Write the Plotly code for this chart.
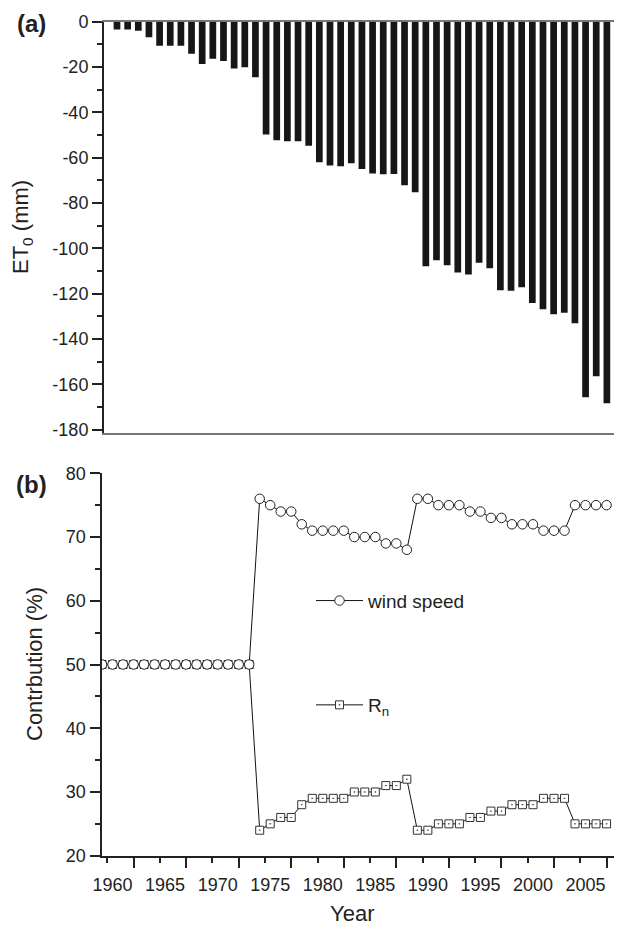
import plotly.graph_objects as go

# ---------------- data ----------------
bar_years = list(range(1960, 2008))
et0_change = [-3.4, -3.4, -4.0, -6.9, -10.6, -10.6, -10.6, -14.1, -18.7, -16.3,
              -17.3, -20.6, -20.1, -24.5, -49.8, -52.3, -52.8, -52.8, -54.7, -62.0,
              -63.5, -63.8, -62.5, -65.0, -67.0, -67.3, -67.2, -72.2, -75.3, -107.9,
              -105.3, -107.5, -110.7, -111.5, -106.4, -108.8, -118.5, -118.7, -117.2, -124.1,
              -126.9, -129.1, -128.4, -133.1, -165.7, -156.4, -168.3, -161.1]

line_years = list(range(1959, 2008))
wind_speed = [50] * 15 + [76, 75, 74, 74, 72, 71, 71, 71, 71, 70, 70, 70, 69, 69, 68,
                          76, 76, 75, 75, 75, 74, 74, 73, 73, 72, 72, 72, 71, 71, 71,
                          75, 75, 75, 75]
rn = [50] * 15 + [24, 25, 26, 26, 28, 29, 29, 29, 29, 30, 30, 30, 31, 31, 32,
                  24, 24, 25, 25, 25, 26, 26, 27, 27, 28, 28, 28, 29, 29, 29,
                  25, 25, 25, 25]

et0_tickvals = [0, -20, -40, -60, -80, -100, -120, -140, -160, -180]
et0_ticktext = ["0", "-20", "-40", "-60", "-80", "-100", "-120", "-140", "-160", "-180"]
year_labels = [1960, 1965, 1970, 1975, 1980, 1985, 1990, 1995, 2000, 2005]

FONT = "Liberation Sans, Arial, Helvetica, sans-serif"
INK = "#222222"

# page has an 8px body margin: figure occupies page pixels 8..622 x 8..925
OFF = 8
W, H = 622 - OFF, 925 - OFF


def px(x):
    return (x - OFF) / W


def py(y):
    return 1 - (y - OFF) / H


fig = go.Figure()

fig.add_trace(go.Bar(x=bar_years, y=et0_change, width=0.63,
                     marker=dict(color="#161616", line=dict(width=0)),
                     xaxis="x", yaxis="y", showlegend=False))

fig.add_trace(go.Scatter(x=line_years, y=rn, mode="lines+markers", name="R<sub>n</sub>",
                         line=dict(color="#111111", width=1),
                         marker=dict(symbol="square-dot", size=8, color="white",
                                     line=dict(color="#333333", width=1)),
                         xaxis="x2", yaxis="y2", legend="legend2"))
fig.add_trace(go.Scatter(x=line_years, y=wind_speed, mode="lines+markers", name="wind speed",
                         line=dict(color="#111111", width=1),
                         marker=dict(symbol="circle", size=9.5, color="white",
                                     line=dict(color="#222222", width=1)),
                         xaxis="x2", yaxis="y2", legend="legend"))
# empty helper trace so the label axis exists
fig.add_trace(go.Scatter(x=[None], y=[None], xaxis="x3", yaxis="y2", showlegend=False))

common = dict(automargin=False, showgrid=False, zeroline=False)
xr_top = [1958.78, 2007.42]
xr_bot = [1958.95, 2008.47]
fig.update_layout(
    template="none",
    width=W, height=H,
    margin=dict(l=0, r=0, t=0, b=0, pad=0),
    paper_bgcolor="white", plot_bgcolor="white",
    font=dict(family=FONT, size=18, color=INK),
    xaxis=dict(domain=[px(104), 1], range=xr_top, anchor="y",
               showline=True, mirror=True, linecolor="#777777", linewidth=1.5,
               ticks="", showticklabels=False, **common),
    yaxis=dict(domain=[py(433.3), py(21.7)], range=[-181.6, 0], anchor="x",
               tickmode="array", tickvals=et0_tickvals, ticktext=et0_ticktext,
               ticks="outside", ticklen=10, tickwidth=1.5, tickcolor=INK,
               minor=dict(ticks="outside", ticklen=5, tickwidth=1.5, tickcolor=INK,
                          tickmode="linear", tick0=-10, dtick=20, showgrid=False),
               showline=True, linecolor=INK, linewidth=2,
               tickfont=dict(size=18), **common),
    xaxis2=dict(domain=[px(101.5), 1], range=xr_bot, anchor="y2",
                showline=True, linecolor=INK, linewidth=2,
                tickmode="linear", tick0=1962, dtick=5,
                ticks="outside", ticklen=10, tickwidth=1.5, tickcolor=INK,
                minor=dict(ticks="outside", ticklen=5, tickwidth=1.5, tickcolor=INK,
                           tickmode="linear", tick0=1959.5, dtick=5, showgrid=False),
                showticklabels=False, **common),
    xaxis3=dict(domain=[px(101.5), 1], range=xr_bot, anchor="y2",
                overlaying="x2", side="bottom",
                tickmode="array", tickvals=year_labels, ticks="", ticklabelstandoff=16,
                showline=False, tickfont=dict(size=18), **common),
    xaxis4=dict(domain=[px(101.5), 1], range=xr_bot, anchor="y2",
                overlaying="x2", side="top", showline=True, linecolor="#777777",
                linewidth=1.5, ticks="", showticklabels=False, **common),
    yaxis2=dict(domain=[py(855.7), py(473.3)], range=[20, 80], anchor="x2",
                tickmode="linear", tick0=20, dtick=10,
                ticks="outside", ticklen=10, tickwidth=1.5, tickcolor=INK,
                minor=dict(ticks="outside", ticklen=5, tickwidth=1.5, tickcolor=INK,
                           tickmode="linear", tick0=25, dtick=10, showgrid=False),
                showline=True, linecolor=INK, linewidth=2,
                tickfont=dict(size=18), **common),
    legend=dict(x=px(311), y=py(600.7), xanchor="left", yanchor="middle",
                bgcolor="rgba(0,0,0,0)", borderwidth=0,
                font=dict(size=19, color=INK), itemwidth=47),
    legend2=dict(x=px(311), y=py(705), xanchor="left", yanchor="middle",
                 bgcolor="rgba(0,0,0,0)", borderwidth=0,
                 font=dict(size=19, color=INK), itemwidth=47),
    annotations=[
        dict(text="<b>(a)</b>", x=px(32), y=py(24), xref="paper", yref="paper",
             showarrow=False, font=dict(size=24, color=INK), xanchor="center", yanchor="middle"),
        dict(text="<b>(b)</b>", x=px(32), y=py(485), xref="paper", yref="paper",
             showarrow=False, font=dict(size=24, color=INK), xanchor="center", yanchor="middle"),
        dict(text="ET<sub>0</sub> (mm)", x=px(22), y=py(227), xref="paper", yref="paper",
             showarrow=False, textangle=-90, font=dict(size=22, color=INK),
             xanchor="center", yanchor="middle"),
        dict(text="Contrbution (%)", x=px(34), y=py(664), xref="paper", yref="paper",
             showarrow=False, textangle=-90, font=dict(size=22, color=INK),
             xanchor="center", yanchor="middle"),
        dict(text="Year", x=px(352), y=py(913), xref="paper", yref="paper",
             showarrow=False, font=dict(size=22, color=INK), xanchor="center", yanchor="middle"),
    ],
)

fig.write_html("out.html")
